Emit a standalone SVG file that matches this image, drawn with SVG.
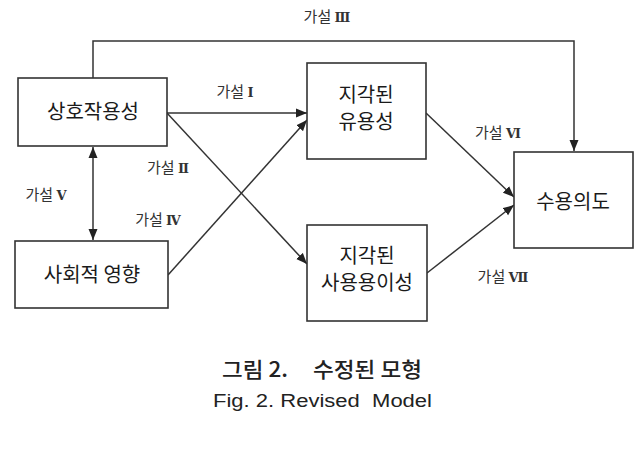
<svg xmlns="http://www.w3.org/2000/svg" width="641" height="463" viewBox="0 0 641 463">
<style>
.box{fill:#fff;stroke:#333;stroke-width:1.6}
.node{font-family:"Noto Sans CJK KR","Noto Sans",sans-serif;font-size:20px;fill:#1a1a1a;text-anchor:middle}
.lbl{font-family:"Noto Sans CJK KR","Noto Sans",sans-serif;font-size:15px;fill:#333;text-anchor:middle}
.rn{font-family:"DejaVu Serif",serif;font-weight:bold;font-size:13px}
.edge{fill:none;stroke:#333;stroke-width:1.5}
.cap{font-family:"Noto Sans CJK KR","Liberation Sans",sans-serif;fill:#222;font-size:21px;font-weight:500}
.capen{font-family:"Liberation Sans",sans-serif;fill:#222;font-size:18px;font-weight:normal}
</style>
<defs>
<marker id="ah" markerUnits="userSpaceOnUse" markerWidth="12" markerHeight="10" refX="11" refY="4.5" orient="auto-start-reverse" viewBox="0 0 12 9">
<path d="M0,0 L11,4.5 L0,9 z" fill="#222"/>
</marker>
</defs>
<rect width="641" height="463" fill="#fff"/>
<g id="connectors">
<path class="edge" d="M93,78 V41 H574 V151" marker-end="url(#ah)"/>
<line class="edge" x1="167" y1="113" x2="307" y2="113" marker-end="url(#ah)"/>
<line class="edge" x1="167" y1="113" x2="307" y2="264" marker-end="url(#ah)"/>
<line class="edge" x1="168" y1="275" x2="307" y2="120" marker-end="url(#ah)"/>
<line class="edge" x1="426" y1="113" x2="514" y2="197" marker-end="url(#ah)"/>
<line class="edge" x1="427" y1="273" x2="514" y2="205" marker-end="url(#ah)"/>
<line class="edge" x1="93" y1="147" x2="93" y2="240" marker-start="url(#ah)" marker-end="url(#ah)"/>
<text class="lbl" x="327" y="22">가설 <tspan class="rn">Ⅲ</tspan></text>
<text class="lbl" x="235" y="97">가설 <tspan class="rn">Ⅰ</tspan></text>
<text class="lbl" x="168" y="173">가설 <tspan class="rn">Ⅱ</tspan></text>
<text class="lbl" x="46" y="200">가설 <tspan class="rn">Ⅴ</tspan></text>
<text class="lbl" x="158" y="225">가설 <tspan class="rn">Ⅳ</tspan></text>
<text class="lbl" x="498" y="138">가설 <tspan class="rn">Ⅵ</tspan></text>
<text class="lbl" x="503" y="282">가설 <tspan class="rn">Ⅶ</tspan></text>
</g>
<g id="n-interactivity">
<rect class="box" x="18" y="78" width="149" height="68"/>
<text class="node" x="93" y="119">상호작용성</text>
</g>
<g id="n-social">
<rect class="box" x="15" y="241" width="153" height="67"/>
<text class="node" x="92" y="282">사회적 영향</text>
</g>
<g id="n-usefulness">
<rect class="box" x="307" y="63" width="119" height="96"/>
<text class="node" x="366" y="102">지각된</text>
<text class="node" x="366" y="129">유용성</text>
</g>
<g id="n-ease">
<rect class="box" x="307" y="225" width="120" height="96"/>
<text class="node" x="367" y="263">지각된</text>
<text class="node" x="367" y="290">사용용이성</text>
</g>
<g id="n-intention">
<rect class="box" x="514" y="152" width="119" height="96"/>
<text class="node" x="573" y="209">수용의도</text>
</g>
<text class="cap" x="222" y="377" textLength="66" lengthAdjust="spacingAndGlyphs">그림 2.</text>
<text class="cap" x="313" y="377" textLength="109" lengthAdjust="spacingAndGlyphs">수정된 모형</text>
<text class="capen" x="213" y="407" textLength="219" lengthAdjust="spacingAndGlyphs" xml:space="preserve">Fig. 2. Revised  Model</text>
</svg>
